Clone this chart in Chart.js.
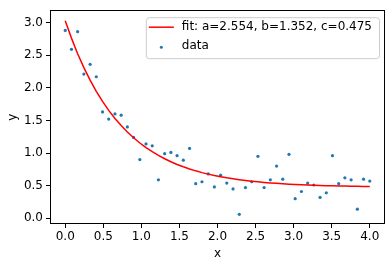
<!DOCTYPE html>
<html>
<head>
<meta charset="utf-8">
<script src="https://cdn.jsdelivr.net/npm/chart.js@4.4.0/dist/chart.umd.min.js"></script>
<style>
  html, body { margin: 0; padding: 0; background: #fff; }
  #wrap { width: 392px; height: 268px; }
</style>
</head>
<body>
<div id="wrap"><canvas id="grafica"></canvas></div>
<script>
// valores
const xDatos = [0.000, 0.082, 0.163, 0.245, 0.327, 0.408, 0.490, 0.571, 0.653, 0.735,
                0.816, 0.898, 0.980, 1.061, 1.143, 1.224, 1.306, 1.388, 1.469, 1.551,
                1.633, 1.714, 1.796, 1.878, 1.959, 2.041, 2.122, 2.204, 2.286, 2.367,
                2.449, 2.531, 2.612, 2.694, 2.776, 2.857, 2.939, 3.020, 3.102, 3.184,
                3.265, 3.347, 3.429, 3.510, 3.592, 3.673, 3.755, 3.837, 3.918, 4.000];
const yDatos = [2.88, 2.59, 2.86, 2.21, 2.36, 2.17, 1.63, 1.52, 1.60, 1.58,
                1.40, 1.24, 0.90, 1.14, 1.11, 0.59, 0.99, 1.01, 0.96, 0.89,
                1.07, 0.53, 0.56, 0.68, 0.48, 0.66, 0.54, 0.45, 0.06, 0.47,
                0.56, 0.95, 0.47, 0.59, 0.80, 0.60, 0.98, 0.30, 0.41, 0.54,
                0.51, 0.32, 0.39, 0.96, 0.53, 0.62, 0.59, 0.14, 0.60, 0.57];
const yAjuste = [3.029, 2.762, 2.523, 2.309, 2.117, 1.946, 1.792, 1.654, 1.531, 1.421,
                 1.322, 1.234, 1.154, 1.083, 1.020, 0.963, 0.912, 0.866, 0.825, 0.789,
                 0.756, 0.727, 0.700, 0.677, 0.656, 0.637, 0.620, 0.605, 0.591, 0.579,
                 0.568, 0.558, 0.550, 0.542, 0.535, 0.529, 0.523, 0.518, 0.514, 0.510,
                 0.506, 0.503, 0.500, 0.497, 0.495, 0.493, 0.491, 0.489, 0.488, 0.486];
const ticksX = [0, 0.5, 1, 1.5, 2, 2.5, 3, 3.5, 4];
const ticksY = [0, 0.5, 1, 1.5, 2, 2.5, 3];
const etiquetaAjuste = 'fit: a=2.554, b=1.352, c=0.475';
const etiquetaDatos = 'data';

const fuente = { family: 'DejaVu Sans', size: 12 };

/** Marco de los ejes + leyenda dentro del area */
const marcoLeyenda = {
    id: 'marcoLeyenda',
    afterDraw(chart) {
        const { ctx, chartArea: a } = chart;
        ctx.save();
        ctx.strokeStyle = '#000'; ctx.lineWidth = 1;
        ctx.strokeRect(Math.round(a.left) + 0.5, Math.round(a.top) + 0.5,
                       Math.round(a.right - a.left) - 1, Math.round(a.bottom - a.top) - 1);

        const ds = chart.data.datasets;
        ctx.font = '12px "DejaVu Sans"';
        const anchoTxt = Math.max(...ds.map(d => ctx.measureText(d.label).width));
        const right = a.right - 6, top = a.top + 7;
        const left = right - 7 - anchoTxt - 36, h = 41;
        ctx.beginPath();
        ctx.roundRect(left + 0.5, top + 0.5, right - left, h, 3);
        ctx.fillStyle = 'rgba(255,255,255,0.8)'; ctx.fill();
        ctx.strokeStyle = '#cccccc'; ctx.stroke();

        const filas = [top + 10, top + 29];
        ds.forEach((d, i) => {
            const y = filas[i];
            if (d.type === 'line') {
                ctx.beginPath(); ctx.moveTo(left + 3, y); ctx.lineTo(left + 28, y);
                ctx.strokeStyle = d.borderColor; ctx.lineWidth = 1.5; ctx.stroke();
            } else {
                ctx.beginPath(); ctx.arc(left + 15.5, y + 1, 1.5, 0, Math.PI * 2);
                ctx.fillStyle = d.backgroundColor; ctx.fill();
            }
            ctx.fillStyle = '#000'; ctx.textBaseline = 'middle'; ctx.textAlign = 'left';
            ctx.fillText(d.label, left + 36, y);
        });
        ctx.restore();
    }
};

new Chart(document.getElementById('grafica'), {
    type: 'scatter',
    data: {
        datasets: [
            { type: 'line', label: etiquetaAjuste, data: xDatos.map((x, i) => ({ x, y: yAjuste[i] })),
              borderColor: '#ff0000', borderWidth: 1.5, pointRadius: 0, fill: false, tension: 0, order: 0 },
            { label: etiquetaDatos, data: xDatos.map((x, i) => ({ x, y: yDatos[i] })),
              backgroundColor: '#1f77b4', borderWidth: 0, pointRadius: 1.6, order: 1 }
        ]
    },
    options: {
        responsive: true, maintainAspectRatio: false, animation: false, devicePixelRatio: 1,
        layout: { padding: { top: 6, right: 7, left: 0, bottom: 0 } },
        plugins: { legend: { display: false }, tooltip: { enabled: false } },
        scales: {
            x: {
                type: 'linear', min: -0.2, max: 4.2,
                afterBuildTicks: s => { s.ticks = ticksX.map(v => ({ value: v })); },
                afterFit: s => { s.height = 44; },
                ticks: { color: '#000', font: fuente, padding: 2, maxRotation: 0, callback: v => v.toFixed(1) },
                grid: { drawOnChartArea: false, drawTicks: true, tickLength: 4, color: '#000' },
                border: { display: false },
                title: { display: true, text: 'x', color: '#000', font: fuente, padding: { top: 0, bottom: 7 } }
            },
            y: {
                type: 'linear', min: -0.088, max: 3.19,
                afterBuildTicks: s => { s.ticks = ticksY.map(v => ({ value: v })); },
                afterFit: s => { s.width = 50; },
                ticks: { color: '#000', font: fuente, padding: 3, callback: v => v.toFixed(1) },
                grid: { drawOnChartArea: false, drawTicks: true, tickLength: 4, color: '#000' },
                border: { display: false },
                title: { display: true, text: 'y', color: '#000', font: fuente, padding: { top: 6, bottom: 0 } }
            }
        }
    },
    plugins: [marcoLeyenda]
});
</script>
</body>
</html>
